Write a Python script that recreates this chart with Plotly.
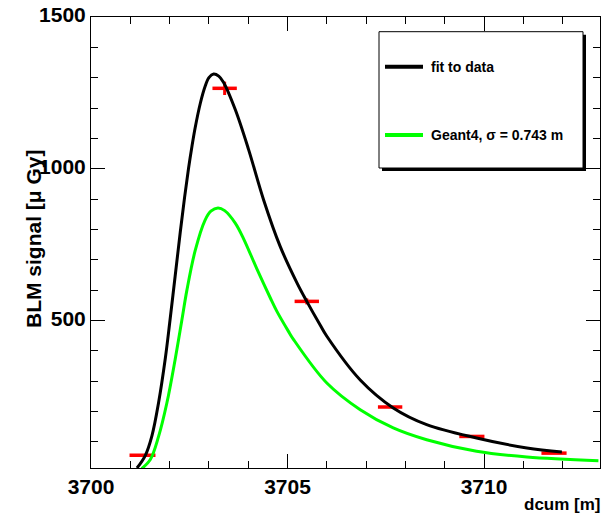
import plotly.graph_objects as go

# ---- data ----
pts_x = [3701.31, 3703.40, 3705.49, 3707.61, 3709.69, 3711.78]
pts_y = [56, 1265, 563, 215, 118, 63]
pts_ex = [0.33, 0.31, 0.31, 0.31, 0.32, 0.32]
pts_ey = [4, 22, 10, 4, 3, 3]

fit_x = [3701.17, 3701.38, 3701.55, 3701.72, 3701.89, 3702.00, 3702.14, 3702.27,
         3702.38, 3702.48, 3702.57, 3702.65, 3702.78, 3702.90, 3703.00, 3703.12,
         3703.25, 3703.37, 3703.67, 3704.01, 3704.39, 3704.81, 3705.24, 3705.49,
         3705.83, 3706.00, 3706.85, 3707.69, 3708.54, 3709.81, 3711.09, 3711.98]
fit_y = [14, 55, 120, 230, 375, 490, 645, 790,
         905, 1000, 1075, 1135, 1215, 1270, 1300, 1312,
         1305, 1285, 1195, 1063, 898, 745, 624, 563,
         485, 448, 304, 212, 157, 113, 80, 67]

g4_x = [3701.29, 3701.51, 3701.72, 3701.93, 3702.14, 3702.31, 3702.44, 3702.65,
        3702.90, 3703.05, 3703.23, 3703.40, 3703.67, 3703.88, 3704.22, 3704.56,
        3704.73, 3705.02, 3705.15, 3706.00, 3706.85, 3707.69, 3708.54, 3709.81,
        3711.09, 3712.91]
g4_y = [12, 42, 118, 228, 371, 500, 600, 730,
        830, 860, 871, 862, 821, 770, 670, 575,
        530, 465, 438, 294, 206, 146, 107, 69,
        50, 38]

x_ticks = [3700, 3705, 3710]
y_ticks = [500, 1000, 1500]

FONT = "Liberation Sans Narrow, Arial Narrow, Liberation Sans, Arial, sans-serif"
SANS = "Liberation Sans, Arial, sans-serif"

fig = go.Figure()
fig.add_trace(go.Scatter(
    x=pts_x, y=pts_y, mode="markers",
    marker=dict(color="red", size=1),
    error_x=dict(type="data", array=pts_ex, color="red", thickness=3.5, width=0),
    error_y=dict(type="data", array=pts_ey, color="red", thickness=3, width=0),
    showlegend=False, hoverinfo="x+y"))
fig.add_trace(go.Scatter(
    x=g4_x, y=g4_y, mode="lines",
    line=dict(color="#00ff00", width=3, shape="spline", smoothing=1.0),
    name="Geant4, σ = 0.743 m", showlegend=False))
fig.add_trace(go.Scatter(
    x=fit_x, y=fit_y, mode="lines",
    line=dict(color="black", width=3, shape="spline", smoothing=1.0),
    name="fit to data", showlegend=False))

axis_common = dict(
    showline=True, linecolor="black", linewidth=1, mirror="allticks",
    ticks="inside", tickcolor="black", tickwidth=1, ticklen=14,
    showgrid=False, zeroline=False, automargin=False,
    tickfont=dict(family=FONT, size=21, color="black", weight="bold"),
)

fig.update_layout(
    width=611, height=516,
    margin=dict(l=91, r=11, t=17, b=48, autoexpand=False),
    paper_bgcolor="white", plot_bgcolor="white",
    xaxis=dict(range=[3700, 3712.95], tickmode="array", tickvals=x_ticks,
               ticktext=[str(v) for v in x_ticks],
               minor=dict(dtick=1, tick0=3700, ticks="inside", ticklen=7,
                          tickcolor="black", showgrid=False),
               **axis_common),
    yaxis=dict(range=[14, 1500], tickmode="array", tickvals=y_ticks,
               ticktext=[str(v) for v in y_ticks], ticklabelshift=-2,
               minor=dict(dtick=100, tick0=0, ticks="inside", ticklen=7,
                          tickcolor="black", showgrid=False),
               **axis_common),
)

# axis titles
fig.add_annotation(text="dcum [m]", xref="paper", yref="paper", x=1.006, y=-0.082,
                   xanchor="right", yanchor="middle", showarrow=False,
                   font=dict(family=FONT, size=17, color="black", weight="bold"))
fig.add_annotation(text="BLM signal [μ Gy]", xref="paper", yref="paper",
                   x=-0.112, y=0.51, textangle=-90, xanchor="center", yanchor="middle",
                   showarrow=False,
                   font=dict(family=SANS, size=21, color="black", weight="bold"))

# legend box with shadow (paper coords)
def px2x(px):
    return (px - 91) / 509.0

def py2y(py):
    return (468 - py) / 451.0

sh = 3.0
fig.add_shape(type="rect", xref="paper", yref="paper",
              x0=px2x(379 + sh), x1=px2x(583 + sh), y0=py2y(168 + sh), y1=py2y(31.7 + sh),
              fillcolor="black", line=dict(width=0), layer="above")
fig.add_shape(type="rect", xref="paper", yref="paper",
              x0=px2x(379), x1=px2x(583), y0=py2y(168), y1=py2y(31.7),
              fillcolor="white", line=dict(color="black", width=1), layer="above")
fig.add_shape(type="line", xref="paper", yref="paper",
              x0=px2x(385), x1=px2x(423), y0=py2y(66.7), y1=py2y(66.7),
              line=dict(color="black", width=4), layer="above")
fig.add_shape(type="line", xref="paper", yref="paper",
              x0=px2x(385), x1=px2x(423), y0=py2y(135), y1=py2y(135),
              line=dict(color="#00ff00", width=4), layer="above")
fig.add_annotation(text="fit to data", xref="paper", yref="paper",
                   x=px2x(429), y=py2y(67), xanchor="left", yanchor="middle",
                   showarrow=False,
                   font=dict(family=FONT, size=14, color="black", weight="bold"))
fig.add_annotation(text="Geant4, σ = 0.743 m", xref="paper", yref="paper",
                   x=px2x(429), y=py2y(135), xanchor="left", yanchor="middle",
                   showarrow=False,
                   font=dict(family=FONT, size=14, color="black", weight="bold"))

fig.write_html("out.html", config={"displayModeBar": False},
               post_script="document.body.style.margin='0px';document.body.style.overflow='hidden';")
